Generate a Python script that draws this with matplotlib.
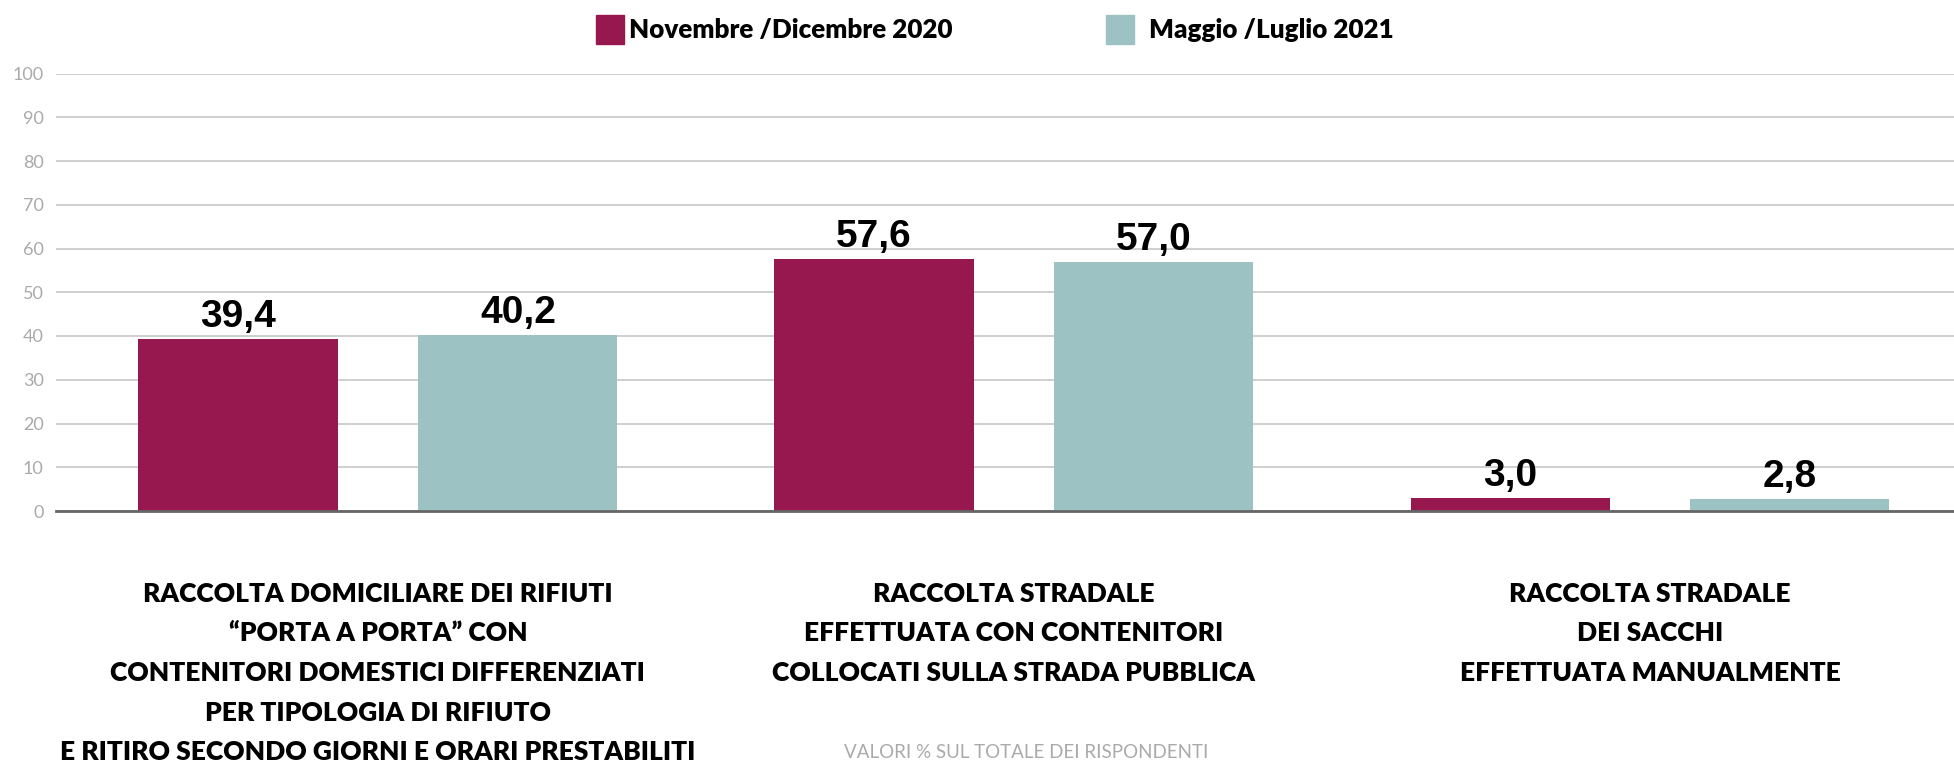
import numpy as np
import matplotlib
matplotlib.use("Agg")
import matplotlib.pyplot as plt

categories = [
    "RACCOLTA DOMICILIARE DEI RIFIUTI\n\u201cPORTA A PORTA\u201d CON\nCONTENITORI DOMESTICI DIFFERENZIATI\nPER TIPOLOGIA DI RIFIUTO\nE RITIRO SECONDO GIORNI E ORARI PRESTABILITI",
    "RACCOLTA STRADALE\nEFFETTUATA CON CONTENITORI\nCOLLOCATI SULLA STRADA PUBBLICA",
    "RACCOLTA STRADALE\nDEI SACCHI\nEFFETTUATA MANUALMENTE",
]
series_names = ["Novembre /Dicembre 2020", "Maggio /Luglio 2021"]
nov_dic_2020 = [39.4, 57.6, 3.0]
mag_lug_2021 = [40.2, 57.0, 2.8]
yticks = list(range(0, 101, 10))
note = "VALORI % SUL TOTALE DEI RISPONDENTI"

maroon = "#97174f"
teal = "#9cc2c3"

fig = plt.figure(figsize=(19.54, 7.6), dpi=100)
ax = fig.add_axes([0.0287, 1 - 511 / 760, 1 - 0.0287, (511 - 73.5) / 760])

x = np.arange(len(categories))
w = 0.313
off = 0.22
b1 = ax.bar(x - off, nov_dic_2020, w, color=maroon, zorder=3)
b2 = ax.bar(x + off, mag_lug_2021, w, color=teal, zorder=3)

# value labels above bars
for bars, vals in [(b1, nov_dic_2020), (b2, mag_lug_2021)]:
    for r, v in zip(bars, vals):
        ax.annotate(f"{v:.1f}".replace(".", ","),
                    (r.get_x() + r.get_width() / 2, r.get_height()),
                    xytext=(0, 8.5), textcoords="offset points",
                    ha="center", va="baseline", fontsize=28,
                    fontweight="bold", family="Liberation Sans", color="black")

ax.set_xlim(-0.506, 2.478)
ax.set_ylim(0, 100)
ax.set_yticks(yticks)
ax.yaxis.grid(True, color="#cccccc", linewidth=1.3, zorder=0)
ax.set_axisbelow(True)
for s in ["top", "right", "left"]:
    ax.spines[s].set_visible(False)
ax.spines["bottom"].set_color("#666666")
ax.spines["bottom"].set_linewidth(2)
ax.spines["bottom"].set_zorder(4)
ax.tick_params(axis="y", length=0, pad=9, labelsize=13, labelcolor="#aaaaaa")
for t in ax.get_yticklabels():
    t.set_family("Lato")

ax.set_xticks(x)
ax.set_xticklabels(categories, family="Lato", fontweight="heavy",
                   fontsize=19, linespacing=1.78, color="black")
ax.tick_params(axis="x", length=0, pad=51)

# legend drawn as squares + text in figure pixels
fig_w, fig_h = 1954, 760
for sx, tx, col, name in [(596, 629, maroon, series_names[0]),
                          (1106, 1149, teal, series_names[1])]:
    fig.patches.append(plt.Rectangle((sx / fig_w, 1 - 44 / fig_h), 28 / fig_w, 29 / fig_h,
                                     transform=fig.transFigure, color=col))
    fig.text(tx / fig_w, 1 - 30 / fig_h, name, ha="left", va="center",
             fontsize=18.7, fontweight="heavy", family="Lato", color="black")

fig.text(1026 / fig_w, 1 - 752 / fig_h, note, ha="center", va="center",
         fontsize=13.5, family="Lato", color="#aaaaaa")

fig.savefig("out.png", dpi=100)
